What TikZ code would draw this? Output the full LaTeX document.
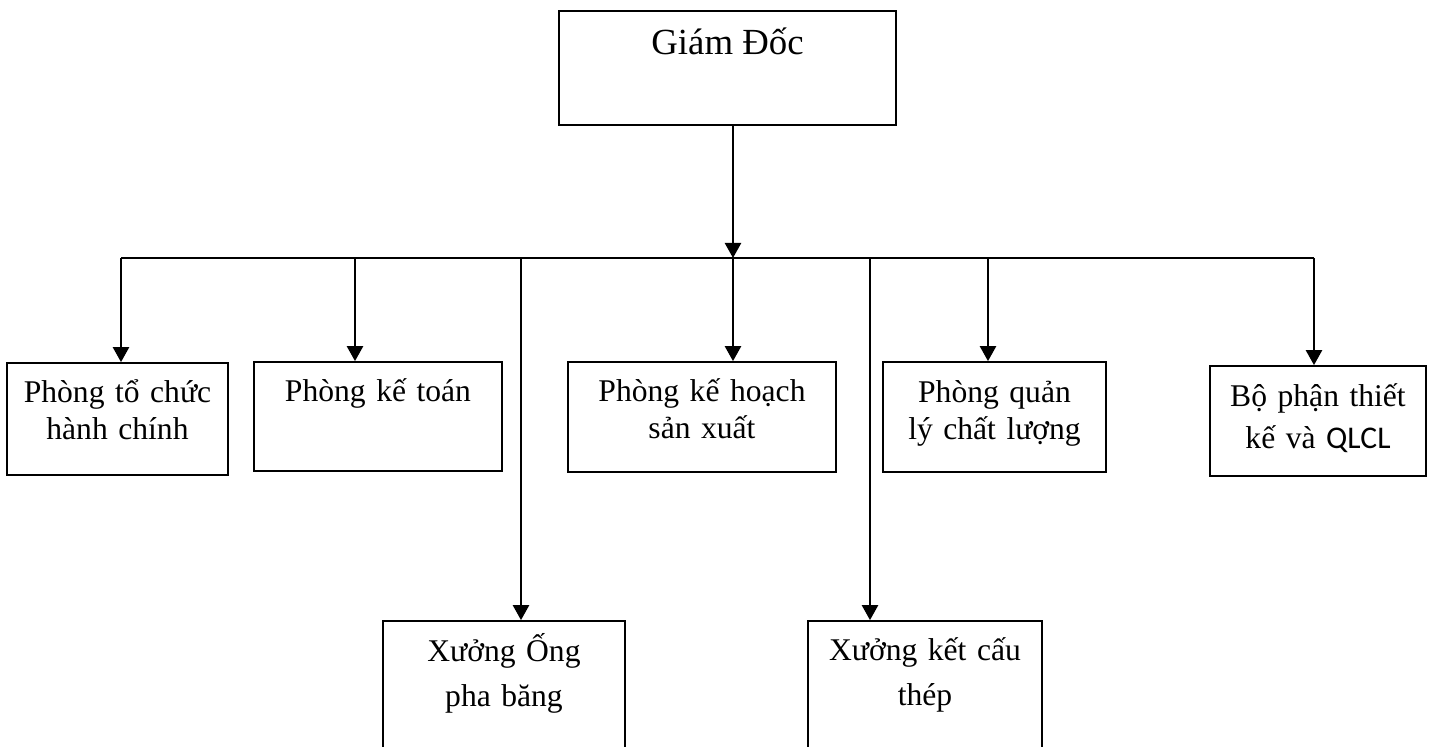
\documentclass[tikz,border=0pt]{standalone}
\usepackage{fontspec}
\setmainfont{Liberation Serif}
\newfontfamily\qlfont{Carlito}
\usetikzlibrary{arrows.meta,fit}
\begin{document}
\begin{tikzpicture}[x=0.5pt,y=-0.5pt,
  box/.style={draw, line width=0.85pt, inner sep=0pt},
  txt/.style={inner sep=0pt, align=center, anchor=base},
  body/.style={font=\fontsize{15.8}{18.5}\selectfont},
  wide/.style={font=\fontsize{15.8}{22.5}\selectfont},
  bus/.style={line width=1.2pt},
  arr/.style={line width=1.2pt, -{Triangle[width=8pt,length=7.5pt]}}]
\clip (0,0) rectangle (1432,747);
\fill[white] (0,0) rectangle (1432,747);

% boxes
\node[box, fit={(559,11) (896,125)}] (gd) {};
\node[box, fit={(7,363) (228,475)}] (b1) {};
\node[box, fit={(254,362) (502,471)}] (b2) {};
\node[box, fit={(568,362) (836,472)}] (b3) {};
\node[box, fit={(883,362) (1106,472)}] (b4) {};
\node[box, fit={(1210,366) (1426,476)}] (b5) {};
\node[box, fit={(383,621) (625,770)}] (x1) {};
\node[box, fit={(808,621) (1042,770)}] (x2) {};

% labels
\node[txt, font=\fontsize{18.4}{22}\selectfont] (gdt) at (727.5,55) {Giám Đốc};
\node[txt, body, text width=110pt] (b1t) at (117.5,403) {Phòng tổ chức\\hành chính};
\node[txt, body, text width=124pt] (b2t) at (378,402) {Phòng kế toán};
\node[txt, body, text width=134pt] (b3t) at (702,402) {Phòng kế hoạch\\sản xuất};
\node[txt, body, text width=111pt] (b4t) at (994.5,403) {Phòng quản\\lý chất lượng};
\node[txt, font=\fontsize{15.8}{21}\selectfont, text width=108pt] (b5t) at (1318,407) {Bộ phận thiết\\kế và {\qlfont QLCL}};
\node[txt, wide, text width=121pt] (x1t) at (504,662) {Xưởng Ống\\pha băng};
\node[txt, wide, text width=117pt] (x2t) at (925,661) {Xưởng kết cấu\\thép};

% distribution bus
\coordinate (busL) at (121,258);
\coordinate (busR) at (1314,258);
\coordinate (tc) at (733,258);
\coordinate (t2) at (355,258);
\coordinate (tx1) at (521,258);
\coordinate (tx2) at (870,258);
\coordinate (t4) at (988,258);

\draw[arr] (tc |- gd.south) -- (tc);
\draw[bus] (busL) -- (busR);
\draw[arr] (busL) -- (busL |- b1.north);
\draw[arr] (t2) -- (t2 |- b2.north);
\draw[arr] (tc) -- (tc |- b3.north);
\draw[arr] (t4) -- (t4 |- b4.north);
\draw[arr] (busR) -- (busR |- b5.north);
\draw[arr] (tx1) -- (tx1 |- x1.north);
\draw[arr] (tx2) -- (tx2 |- x2.north);
\end{tikzpicture}
\end{document}
